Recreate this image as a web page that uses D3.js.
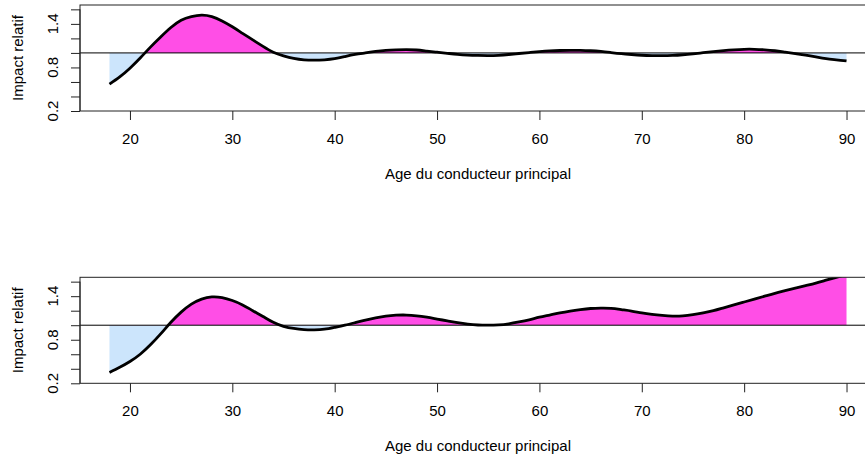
<!DOCTYPE html>
<meta charset="utf-8">
<style>
  body { margin: 0; background: #fff; }
  text { font-family: "Liberation Sans", Arial, sans-serif; font-size: 15px; fill: #000; }
</style>
<svg width="865" height="459"></svg>
<script src="https://d3js.org/d3.v7.min.js"></script>
<script>

var ages = d3.range(18, 91);

// relative impact, first model
var impactTop = [0.57, 0.67, 0.79, 0.93, 1.08, 1.22, 1.35, 1.45, 1.50, 1.52,
  1.50, 1.44, 1.36, 1.27, 1.18, 1.09, 1.01, 0.96, 0.925, 0.905,
  0.90, 0.905, 0.92, 0.95, 0.98, 1.00, 1.02, 1.035, 1.042, 1.045,
  1.04, 1.025, 1.01, 0.995, 0.98, 0.97, 0.965, 0.963, 0.967, 0.978,
  0.992, 1.005, 1.017, 1.027, 1.033, 1.036, 1.035, 1.03, 1.02, 1.005,
  0.99, 0.978, 0.968, 0.963, 0.962, 0.966, 0.975, 0.988, 1.003, 1.018,
  1.032, 1.043, 1.05, 1.05, 1.043, 1.03, 1.01, 0.99, 0.97, 0.945,
  0.92, 0.905, 0.89];

// second model
var impactBottom = [0.35, 0.42, 0.50, 0.60, 0.73, 0.88, 1.04, 1.18, 1.29, 1.36,
  1.39, 1.38, 1.34, 1.28, 1.20, 1.12, 1.04, 0.985, 0.955, 0.94,
  0.937, 0.945, 0.97, 1.00, 1.035, 1.07, 1.10, 1.125, 1.138, 1.14,
  1.13, 1.11, 1.085, 1.06, 1.035, 1.015, 1.003, 1.00, 1.005, 1.02,
  1.045, 1.075, 1.11, 1.14, 1.17, 1.195, 1.215, 1.23, 1.235, 1.232,
  1.215, 1.195, 1.17, 1.15, 1.135, 1.125, 1.128, 1.145, 1.17, 1.20,
  1.24, 1.28, 1.32, 1.36, 1.40, 1.44, 1.475, 1.51, 1.545, 1.58,
  1.62, 1.66, 1.70];

var xTicks = [20, 30, 40, 50, 60, 70, 80, 90];
var yTicks = [0.2, 0.4, 0.6, 0.8, 1.0, 1.2, 1.4, 1.6];
var yLabels = [0.2, 0.8, 1.4];

var xTitle = "Age du conducteur principal",
    yTitle = "Impact relatif";

var svg = d3.select("svg");

var boxL = 80, boxR = 876, boxT = 5, boxB = 111;

var x = d3.scaleLinear().domain([15.12, 92.88]).range([boxL, boxR]);
var y = d3.scaleLinear().domain([0.2, 1.66]).range([boxB, boxT]);

function panel(values, dy, id) {
  var g = svg.append("g").attr("transform", "translate(0," + dy + ")");

  var defs = g.append("defs");
  defs.append("clipPath").attr("id", "up" + id)
    .append("rect").attr("x", boxL).attr("y", boxT)
    .attr("width", boxR - boxL).attr("height", y(1) - boxT);
  defs.append("clipPath").attr("id", "down" + id)
    .append("rect").attr("x", boxL).attr("y", y(1))
    .attr("width", boxR - boxL).attr("height", boxB - y(1));
  defs.append("clipPath").attr("id", "plot" + id)
    .append("rect").attr("x", boxL).attr("y", boxT)
    .attr("width", boxR - boxL).attr("height", boxB - boxT);

  var data = ages.map(function(a, i) { return [a, values[i]]; });

  var area = d3.area()
      .x(function(d) { return x(d[0]); })
      .y0(y(1))
      .y1(function(d) { return y(d[1]); })
      .curve(d3.curveNatural);

  var line = d3.line()
      .x(function(d) { return x(d[0]); })
      .y(function(d) { return y(d[1]); })
      .curve(d3.curveNatural);

  g.append("path").datum(data)
    .attr("clip-path", "url(#up" + id + ")")
    .attr("fill", "#ff4ee6")
    .attr("d", area);

  g.append("path").datum(data)
    .attr("clip-path", "url(#down" + id + ")")
    .attr("fill", "#cce5fc")
    .attr("d", area);

  g.append("line")
    .attr("x1", boxL).attr("x2", boxR)
    .attr("y1", y(1)).attr("y2", y(1))
    .attr("stroke", "#000").attr("stroke-width", 1);

  g.append("path").datum(data)
    .attr("clip-path", "url(#plot" + id + ")")
    .attr("fill", "none")
    .attr("stroke", "#000")
    .attr("stroke-width", 2.8)
    .attr("stroke-linejoin", "round")
    .attr("d", line);

  // box
  g.append("rect")
    .attr("x", boxL).attr("y", boxT)
    .attr("width", boxR - boxL).attr("height", boxB - boxT)
    .attr("fill", "none").attr("stroke", "#222").attr("stroke-width", 1);

  // x axis
  var xa = g.append("g").attr("transform", "translate(0," + boxB + ")")
    .call(d3.axisBottom(x).tickValues(xTicks).tickSize(9).tickSizeOuter(0));
  xa.attr("font-size", null).attr("font-family", null);
  xa.select(".domain").remove();
  xa.selectAll(".tick line").attr("stroke", "#222");
  xa.selectAll("text").attr("dy", null).attr("y", 33);

  // y axis
  var ya = g.append("g").attr("transform", "translate(" + boxL + ",0)")
    .call(d3.axisLeft(y).tickValues(yTicks).tickSize(9).tickSizeOuter(0).tickFormat(""));
  ya.select(".domain").attr("d", "M0," + y(0.2) + "V" + y(1.6)).attr("stroke", "#222");
  ya.selectAll(".tick line").attr("stroke", "#222");

  g.selectAll(".ylab").data(yLabels).enter().append("text")
    .attr("class", "ylab")
    .attr("text-anchor", "middle")
    .attr("transform", function(d) { return "translate(58," + y(d) + ") rotate(-90)"; })
    .text(function(d) { return d3.format(".1f")(d); });

  g.append("text")
    .attr("text-anchor", "middle")
    .attr("transform", "translate(23," + ((boxT + boxB) / 2) + ") rotate(-90)")
    .text(yTitle);

  g.append("text")
    .attr("text-anchor", "middle")
    .attr("x", (boxL + boxR) / 2)
    .attr("y", boxB + 68)
    .text(xTitle);
}

panel(impactTop, 0, "a");
panel(impactBottom, 272.3, "b");

</script>
